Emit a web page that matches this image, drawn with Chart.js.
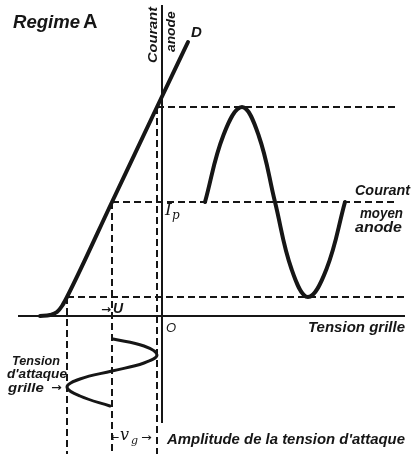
<!DOCTYPE html>
<html>
<head>
<meta charset="utf-8">
<script src="https://cdn.jsdelivr.net/npm/chart.js@4.4.1/dist/chart.umd.min.js"></script>
<style>
html,body{margin:0;padding:0;background:#fff;}
#wrap{width:412px;height:454px;position:relative;}
</style>
</head>
<body>
<div id="wrap"><canvas id="c" width="412" height="454"></canvas></div>
<script>
// ---- data (grid voltage on x, anode current on y; grid-wave time runs downward as negative y) ----
const charV = [-122, -112, -105, -100, -95, -50, -5, 26];      // characteristic D : grid voltage
const charI = [0, 1, 4, 10, 19, 114, 209, 274];                 // characteristic D : anode current

const anodeWaveT = [43, 61.5, 80, 96.5, 113, 129.5, 146, 164.5, 183]; // anode current wave: position
const anodeWaveI = [114, 181, 209, 181, 114, 47, 19, 47, 114];       // anode current wave: value

const gridWaveV = [-49, -18, -5, -18, -50, -82, -95, -82, -52];      // grid drive wave: voltage
const gridWaveT = [-23, -30, -39, -47, -55, -63, -71, -80, -90];     // grid drive wave: time (down)

const biasU = -50;          // -U
const vgAmp = 45;           // amplitude of drive voltage
const Ip = 114;             // mean anode current
const Imax = 209, Imin = 19;

const xRange = [-162, 250];
const yRange = [-138, 316];

// ---- helpers ----
function pts(xs, ys){ return xs.map((x,i)=>({x:x, y:ys[i]})); }
const ink = '#161616';
function dashed(a){ return {data:a, borderColor:ink, borderWidth:2, borderDash:[7,4], pointRadius:0, tension:0, fill:false}; }

const datasets = [
  // axes
  {data:[{x:-144,y:0},{x:243,y:0}], borderColor:ink, borderWidth:2, pointRadius:0, tension:0},
  {data:[{x:0,y:311},{x:0,y:-107}], borderColor:ink, borderWidth:2, pointRadius:0, tension:0},
  // dashed construction lines
  dashed([{x:biasU+vgAmp, y:Imax},{x:235, y:Imax}]),
  dashed([{x:biasU, y:Ip},{x:236, y:Ip}]),
  dashed([{x:biasU-vgAmp, y:Imin},{x:243, y:Imin}]),
  dashed([{x:biasU-vgAmp, y:Imin},{x:biasU-vgAmp, y:yRange[0]}]),
  dashed([{x:biasU, y:Ip},{x:biasU, y:yRange[0]}]),
  dashed([{x:biasU+vgAmp, y:Imax},{x:biasU+vgAmp, y:yRange[0]}]),
  // characteristic D
  {data:pts(charV, charI), borderColor:ink, borderWidth:4, pointRadius:0, cubicInterpolationMode:'monotone', borderCapStyle:'round'},
  // anode current wave
  {data:pts(anodeWaveT, anodeWaveI), borderColor:ink, borderWidth:4, pointRadius:0, tension:0.4, borderCapStyle:'round'},
  // grid drive wave
  {data:pts(gridWaveV, gridWaveT), borderColor:ink, borderWidth:3, pointRadius:0, tension:0.4, borderCapStyle:'round'}
];

// text labels (data coordinates); w = target width in px (fine adjustment only)
const LS = '"Liberation Sans"';
const labels = [
  {t:'Regime', x:-149, y:288, f:'italic bold 19px '+LS, w:67},
  {t:'A', x:-79, y:288, f:'bold 20px '+LS},
  {t:'D', x:29, y:279, f:'italic bold 15px '+LS},
  {t:'Courant', x:-5, y:253, f:'italic bold 13px '+LS, w:56, rot:true},
  {t:'anode', x:13, y:264, f:'italic bold 12px '+LS, w:42, rot:true},
  {t:'I', x:3, y:101, f:'italic 17px "DejaVu Serif"'},
  {t:'p', x:10, y:97, f:'italic 12px "DejaVu Serif"'},
  {t:'Courant', x:193, y:121, f:'italic bold 14px '+LS, w:55},
  {t:'moyen', x:198, y:98, f:'italic bold 14px '+LS, w:43},
  {t:'anode', x:193, y:84, f:'italic bold 14px '+LS, w:47},
  {t:'O', x:4, y:-16, f:'italic 13px '+LS},
  {t:'Tension grille', x:146, y:-16, f:'italic bold 14.5px '+LS, w:97},
  {t:'Tension', x:-150, y:-49, f:'italic bold 13px '+LS, w:48},
  {t:"d'attaque", x:-155, y:-62, f:'italic bold 13px '+LS, w:60},
  {t:'grille', x:-154, y:-76, f:'italic bold 13px '+LS, w:40},
  {t:'→', x:-111, y:-75, f:'bold 11px "DejaVu Sans"', w:12},
  {t:'→', x:-61, y:3, f:'bold 11px "DejaVu Sans"', w:10},
  {t:'U', x:-49, y:3, f:'italic bold 14px '+LS},
  {t:'←', x:-51, y:-125, f:'11px "DejaVu Sans"', w:8},
  {t:'v', x:-42, y:-124, f:'italic 16px "DejaVu Serif"'},
  {t:'g', x:-31, y:-128, f:'italic 11px "DejaVu Serif"'},
  {t:'→', x:-21, y:-125, f:'11px "DejaVu Sans"', w:11},
  {t:'Amplitude de la tension d\'attaque', x:5, y:-128, f:'italic bold 15px '+LS, w:238}
];

const textPlugin = {
  id:'texts',
  afterDatasetsDraw(chart){
    const {ctx, scales:{x, y}} = chart;
    ctx.save();
    ctx.fillStyle = ink;
    ctx.textBaseline = 'alphabetic';
    ctx.textAlign = 'left';
    labels.forEach(l=>{
      const px = x.getPixelForValue(l.x), py = y.getPixelForValue(l.y);
      ctx.font = l.f;
      ctx.save();
      ctx.translate(px, py);
      if(l.rot) ctx.rotate(-Math.PI/2);
      if(l.w){
        const m = ctx.measureText(l.t).width;
        const s = Math.max(0.85, Math.min(1.15, l.w / m));
        ctx.scale(s, 1);
      }
      ctx.fillText(l.t, 0, 0);
      ctx.restore();
    });
    ctx.restore();
  }
};

new Chart(document.getElementById('c'), {
  type:'line',
  data:{datasets},
  options:{
    responsive:false,
    animation:false,
    parsing:true,
    layout:{padding:0},
    plugins:{legend:{display:false}, tooltip:{enabled:false}},
    elements:{line:{fill:false}},
    scales:{
      x:{type:'linear', min:xRange[0], max:xRange[1], display:false},
      y:{type:'linear', min:yRange[0], max:yRange[1], display:false}
    }
  },
  plugins:[textPlugin]
});
</script>
</body>
</html>
